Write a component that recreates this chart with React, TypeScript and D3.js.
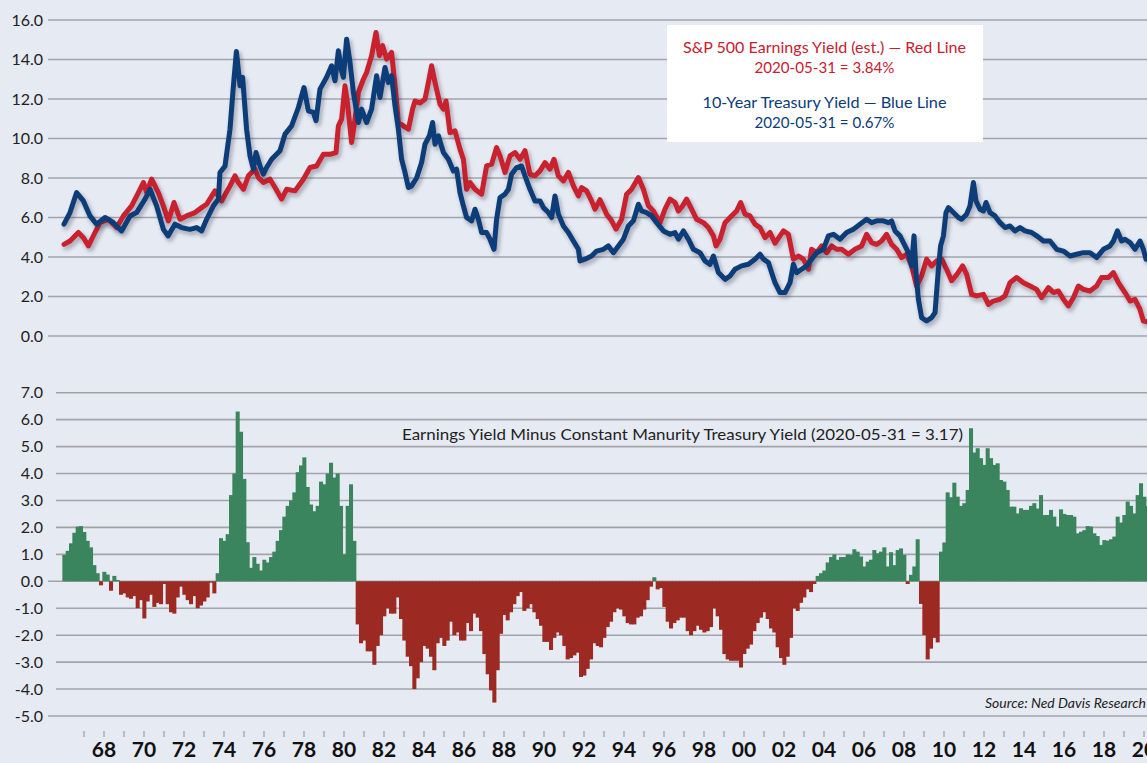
import React from 'react';
import * as d3 from 'd3';

const width = 1147;
const height = 763;
const font = 'Lato, "Noto Sans", sans-serif';

// S&P 500 earnings yield, red line: [year, %]
const redYield: [number, number][] = [
  [1966.0, 4.64], [1966.3, 4.81], [1966.72, 5.24], [1966.97, 4.98], [1967.22, 4.56], [1967.55, 5.24],
  [1967.8, 5.74], [1968.22, 5.91], [1968.63, 5.49], [1968.97, 6.08], [1969.38, 6.59], [1969.72, 7.26],
  [1969.97, 7.77], [1970.13, 7.26], [1970.38, 7.94], [1970.72, 7.26], [1970.97, 6.59], [1971.22, 5.83],
  [1971.5, 6.76], [1971.8, 5.91], [1972.13, 6.08], [1972.55, 6.25], [1972.88, 6.5], [1973.13, 6.67],
  [1973.55, 7.35], [1973.88, 6.84], [1974.3, 7.6], [1974.55, 8.11], [1974.72, 7.77], [1974.97, 7.43],
  [1975.22, 8.11], [1975.55, 8.45], [1975.72, 8.02], [1975.97, 7.77], [1976.3, 7.94], [1976.55, 7.52],
  [1976.88, 6.93], [1977.13, 7.43], [1977.55, 7.35], [1977.97, 7.94], [1978.3, 8.53], [1978.63, 8.61],
  [1978.97, 9.2], [1979.3, 9.2], [1979.6, 9.29], [1979.72, 10.64], [1979.88, 10.98], [1980.05, 12.67],
  [1980.17, 11.82], [1980.38, 9.8], [1980.55, 10.98], [1980.72, 12.33], [1980.97, 13.0], [1981.13, 13.34],
  [1981.38, 14.19], [1981.6, 15.37], [1981.77, 14.19], [1981.93, 14.7], [1982.13, 14.02], [1982.38, 14.36],
  [1982.55, 12.67], [1982.72, 10.81], [1982.97, 10.64], [1983.22, 10.47], [1983.43, 11.49], [1983.55, 11.9],
  [1983.8, 11.8], [1984.05, 11.99], [1984.22, 12.84], [1984.38, 13.68], [1984.55, 12.84], [1984.8, 11.74],
  [1984.97, 11.49], [1985.1, 11.9], [1985.3, 10.3], [1985.55, 10.39], [1985.8, 9.46], [1985.97, 8.95],
  [1986.13, 7.43], [1986.3, 7.77], [1986.55, 7.43], [1986.88, 7.18], [1987.13, 8.61], [1987.38, 8.7],
  [1987.63, 9.54], [1987.8, 9.12], [1988.05, 8.28], [1988.3, 9.12], [1988.55, 9.29], [1988.8, 8.95],
  [1989.05, 9.38], [1989.3, 8.19], [1989.55, 8.11], [1989.8, 8.36], [1990.05, 8.78], [1990.3, 8.45],
  [1990.5, 8.95], [1990.72, 8.11], [1990.97, 7.85], [1991.22, 8.28], [1991.47, 7.6], [1991.72, 7.09],
  [1991.88, 7.52], [1992.13, 7.35], [1992.38, 6.84], [1992.55, 6.42], [1992.8, 6.9], [1993.13, 6.17],
  [1993.38, 5.83], [1993.6, 5.41], [1993.88, 5.91], [1994.13, 7.18], [1994.38, 7.43], [1994.72, 8.02],
  [1994.97, 7.43], [1995.22, 6.59], [1995.47, 6.33], [1995.8, 5.74], [1996.05, 6.42], [1996.3, 6.93],
  [1996.55, 6.76], [1996.72, 6.33], [1996.93, 6.59], [1997.13, 6.93], [1997.38, 6.42], [1997.63, 5.91],
  [1997.97, 5.74], [1998.22, 5.49], [1998.47, 5.07], [1998.6, 4.56], [1998.8, 4.9], [1999.05, 5.74],
  [1999.3, 6.0], [1999.63, 6.33], [1999.83, 6.76], [2000.05, 6.17], [2000.3, 6.08], [2000.55, 5.66],
  [2000.8, 5.49], [2001.05, 4.98], [2001.3, 5.24], [2001.55, 4.7], [2001.8, 5.07], [2001.97, 5.32],
  [2002.22, 5.15], [2002.47, 3.89], [2002.72, 4.05], [2002.97, 3.89], [2003.22, 3.38], [2003.38, 4.39],
  [2003.63, 4.22], [2003.88, 4.56], [2004.13, 4.22], [2004.38, 4.56], [2004.63, 4.39], [2004.88, 4.39],
  [2005.22, 4.14], [2005.55, 4.39], [2005.88, 4.56], [2006.13, 5.15], [2006.38, 4.73], [2006.63, 4.64],
  [2006.88, 4.81], [2007.13, 5.15], [2007.38, 4.64], [2007.63, 4.39], [2007.88, 3.97], [2008.13, 4.14],
  [2008.38, 3.55], [2008.63, 2.53], [2008.88, 3.04], [2009.13, 3.89], [2009.38, 3.55], [2009.63, 3.8],
  [2009.88, 3.89], [2010.13, 3.38], [2010.38, 2.8], [2010.63, 3.1], [2010.93, 3.55], [2011.13, 3.13],
  [2011.38, 2.11], [2011.63, 2.03], [2011.97, 2.11], [2012.22, 1.6], [2012.47, 1.77], [2012.8, 1.86],
  [2013.05, 2.03], [2013.3, 2.7], [2013.63, 2.96], [2013.97, 2.7], [2014.3, 2.53], [2014.63, 2.36],
  [2014.88, 1.94], [2015.22, 2.45], [2015.47, 2.2], [2015.72, 2.28], [2015.97, 1.86], [2016.22, 1.52],
  [2016.47, 1.94], [2016.72, 2.53], [2016.97, 2.36], [2017.3, 2.28], [2017.63, 2.53], [2017.88, 2.96],
  [2018.22, 2.96], [2018.47, 3.21], [2018.72, 2.7], [2019.05, 2.2], [2019.3, 1.77], [2019.55, 1.86],
  [2019.8, 1.35], [2019.97, 0.76], [2020.25, 0.7],
];

// 10-year treasury yield, blue line: [year, %]
const blueYield: [number, number][] = [
  [1966.0, 5.66], [1966.3, 6.25], [1966.63, 7.26], [1966.97, 6.84], [1967.3, 6.08], [1967.63, 5.66],
  [1968.05, 6.0], [1968.47, 5.74], [1968.88, 5.32], [1969.3, 6.08], [1969.63, 6.25], [1970.05, 6.93],
  [1970.3, 7.43], [1970.63, 6.59], [1970.97, 5.4], [1971.2, 5.07], [1971.55, 5.66], [1971.88, 5.49],
  [1972.3, 5.4], [1972.63, 5.49], [1972.88, 5.32], [1973.13, 5.91], [1973.47, 6.59], [1973.72, 6.93],
  [1973.8, 8.28], [1974.05, 8.6], [1974.3, 10.47], [1974.47, 12.67], [1974.62, 14.4], [1974.8, 12.67],
  [1974.93, 13.1], [1975.13, 10.47], [1975.3, 9.12], [1975.47, 8.45], [1975.6, 9.29], [1975.8, 8.61],
  [1975.97, 8.19], [1976.13, 8.53], [1976.38, 8.95], [1976.8, 9.38], [1977.05, 10.22], [1977.38, 10.64],
  [1977.72, 11.57], [1978.0, 12.58], [1978.22, 11.4], [1978.47, 11.32], [1978.6, 10.9], [1978.8, 12.5],
  [1979.13, 13.1], [1979.38, 13.68], [1979.55, 12.92], [1979.72, 14.44], [1979.88, 13.43], [1979.97, 13.1],
  [1980.13, 15.03], [1980.3, 13.85], [1980.47, 12.33], [1980.72, 10.81], [1980.88, 11.49], [1981.13, 10.81],
  [1981.38, 11.49], [1981.63, 13.18], [1981.8, 12.08], [1982.05, 13.6], [1982.22, 12.84], [1982.38, 13.18],
  [1982.55, 11.66], [1982.72, 10.47], [1982.88, 8.95], [1983.05, 8.28], [1983.22, 7.52], [1983.38, 7.6],
  [1983.63, 8.0], [1983.88, 8.78], [1984.05, 9.71], [1984.27, 10.14], [1984.43, 10.81], [1984.55, 9.71],
  [1984.72, 10.14], [1984.97, 9.29], [1985.22, 8.95], [1985.47, 8.36], [1985.63, 8.45], [1985.8, 7.26],
  [1985.97, 6.59], [1986.13, 6.0], [1986.38, 5.83], [1986.55, 6.42], [1986.72, 5.91], [1986.88, 5.24],
  [1987.13, 5.24], [1987.3, 4.9], [1987.5, 4.39], [1987.63, 5.91], [1987.8, 7.01], [1988.05, 7.18],
  [1988.22, 7.43], [1988.38, 8.19], [1988.63, 8.53], [1988.88, 8.61], [1989.05, 8.11], [1989.3, 7.43],
  [1989.55, 6.84], [1989.8, 6.84], [1989.97, 6.5], [1990.22, 6.25], [1990.38, 6.0], [1990.55, 7.09],
  [1990.72, 6.17], [1990.97, 5.57], [1991.22, 5.24], [1991.47, 4.81], [1991.72, 4.39], [1991.8, 3.8],
  [1992.05, 3.89], [1992.38, 4.05], [1992.63, 4.3], [1992.97, 4.39], [1993.22, 4.56], [1993.47, 4.22],
  [1993.72, 4.56], [1993.97, 4.9], [1994.22, 5.57], [1994.47, 5.83], [1994.72, 6.67], [1994.88, 6.33],
  [1995.13, 6.25], [1995.38, 6.08], [1995.63, 5.74], [1995.97, 5.32], [1996.3, 5.15], [1996.55, 5.24],
  [1996.72, 4.9], [1996.97, 5.32], [1997.22, 4.9], [1997.47, 4.39], [1997.8, 4.22], [1998.05, 3.8],
  [1998.3, 3.63], [1998.47, 4.05], [1998.72, 3.21], [1999.05, 2.87], [1999.3, 3.04], [1999.55, 3.38],
  [1999.88, 3.55], [2000.22, 3.63], [2000.55, 3.89], [2000.8, 4.14], [2000.97, 3.89], [2001.22, 3.72],
  [2001.38, 3.21], [2001.55, 2.7], [2001.8, 2.2], [2002.05, 2.2], [2002.3, 2.7], [2002.47, 3.63],
  [2002.63, 3.21], [2002.88, 3.38], [2003.13, 3.55], [2003.38, 3.89], [2003.63, 4.22], [2003.97, 4.39],
  [2004.22, 5.07], [2004.47, 5.15], [2004.8, 4.9], [2005.13, 5.24], [2005.47, 5.41], [2005.8, 5.66],
  [2006.13, 5.91], [2006.38, 5.74], [2006.63, 5.83], [2006.97, 5.83], [2007.22, 5.74], [2007.38, 5.83],
  [2007.55, 5.32], [2007.8, 5.07], [2008.05, 4.56], [2008.22, 4.22], [2008.38, 3.55], [2008.5, 5.07],
  [2008.6, 3.21], [2008.72, 1.86], [2008.88, 0.93], [2009.13, 0.76], [2009.38, 0.93], [2009.55, 1.18],
  [2009.72, 3.38], [2009.83, 4.56], [2009.97, 5.07], [2010.1, 6.25], [2010.22, 6.5], [2010.47, 6.25],
  [2010.72, 6.0], [2010.88, 5.91], [2011.13, 6.17], [2011.3, 6.59], [2011.47, 7.77], [2011.6, 6.84],
  [2011.8, 6.42], [2011.97, 6.33], [2012.1, 6.76], [2012.3, 6.25], [2012.55, 6.08], [2012.8, 5.74],
  [2013.05, 5.49], [2013.3, 5.57], [2013.55, 5.32], [2013.8, 5.49], [2014.05, 5.32], [2014.38, 5.24],
  [2014.63, 5.07], [2014.97, 4.81], [2015.3, 4.81], [2015.63, 4.39], [2015.97, 4.3], [2016.3, 4.05],
  [2016.63, 4.14], [2016.97, 4.22], [2017.3, 4.22], [2017.63, 3.97], [2017.97, 4.39], [2018.3, 4.56],
  [2018.47, 4.81], [2018.67, 5.32], [2018.88, 4.81], [2019.05, 4.9], [2019.3, 4.73], [2019.55, 4.39],
  [2019.8, 4.81], [2019.97, 4.39], [2020.1, 3.89], [2020.25, 3.9],
];

// spread, bimonthly (6 per year) starting 1966
const spreadStart = 1966;
const spreadPerYear = 6;
const spread = [
  0.98, 1.13, 1.41, 1.8, 2.03, 2.05, // 1966
  1.83, 1.5, 1.26, 0.6, 0.3, -0.15,
  0.35, 0.25, -0.35, 0.2, 0.05, -0.5,
  -0.45, -0.6, -0.65, -0.55, -1.0, -0.7,
  -1.38, -0.75, -0.5, -0.95, -0.8, -0.85, // 1970
  -0.1, -0.85, -1.15, -1.2, -0.6, -0.2,
  -0.5, -0.7, -0.85, -0.55, -1.0, -0.9,
  -0.75, -0.6, -0.05, -0.45, 0.3, 1.6,
  1.5, 1.75, 3.2, 4.0, 6.3, 5.55,
  3.8, 1.45, 0.5, 0.9, 0.65, 0.4, // 1975
  0.8, 0.7, 0.9, 1.1, 1.5, 1.9,
  2.4, 2.8, 3.0, 3.3, 4.05, 4.3,
  4.6, 3.5, 2.85, 2.6, 2.8, 3.7,
  3.6, 4.0, 4.4, 3.85, 4.0, 2.8,
  1.0, 2.8, 3.6, 1.5, -1.6, -2.3, // 1980
  -2.2, -2.6, -2.6, -3.1, -2.4, -2.0,
  -1.3, -1.0, -1.2, -1.2, -0.6, -1.4,
  -2.2, -2.8, -3.15, -4.0, -3.6, -3.0,
  -2.4, -2.5, -2.8, -3.3, -2.3, -2.1,
  -2.4, -2.2, -1.5, -2.0, -1.9, -2.2, // 1985
  -2.2, -1.55, -1.85, -1.2, -1.35, -1.85,
  -2.7, -3.45, -4.05, -4.5, -3.3, -1.95,
  -1.25, -1.45, -1.15, -0.85, -0.55, -0.4,
  -1.1, -1.0, -0.85, -1.15, -1.4, -1.65,
  -2.25, -2.25, -2.55, -2.1, -1.9, -2.0, // 1990
  -2.4, -2.9, -2.85, -2.75, -2.65, -3.55,
  -3.5, -3.25, -2.9, -2.3, -2.4, -2.45,
  -2.1, -1.7, -1.5, -1.15, -1.0, -1.05,
  -1.3, -1.55, -1.6, -1.6, -1.35, -1.3,
  -1.05, -0.7, -0.2, 0.15, -0.3, -0.25, // 1995
  -0.95, -1.5, -1.75, -1.55, -1.45, -1.35,
  -1.35, -1.85, -2.0, -1.85, -1.65, -1.8,
  -1.9, -1.85, -1.7, -1.0, -1.3, -1.8,
  -2.7, -2.9, -2.95, -2.95, -2.95, -3.2,
  -2.7, -2.5, -2.35, -1.85, -1.55, -1.35, // 2000
  -1.15, -1.4, -1.75, -1.9, -2.45, -2.85,
  -3.1, -2.8, -2.1, -1.0, -1.1, -0.8,
  -0.6, -0.3, -0.4, -0.1, 0.2, 0.3,
  0.4, 0.7, 0.9, 1.0, 0.8, 0.9,
  0.9, 1.0, 0.98, 1.19, 1.1, 0.92, // 2005
  0.55, 0.73, 0.8, 1.16, 1.04, 1.1,
  1.26, 0.55, 1.08, 0.6, 1.16, 1.22,
  0.98, -0.1, 0.24, 0.55, 1.56, -0.84,
  -2.0, -2.9, -2.5, -2.1, -2.27, 1.1,
  1.44, 3.3, 3.12, 3.66, 3.14, 2.8, // 2010
  2.9, 3.39, 5.68, 4.78, 4.94, 4.57,
  4.32, 4.94, 4.57, 4.32, 4.38, 3.76,
  3.7, 3.39, 2.77, 2.77, 2.52, 2.71,
  2.65, 2.65, 2.8, 2.9, 2.7, 3.2,
  2.46, 2.46, 2.65, 2.4, 2.03, 2.67, // 2015
  2.5, 2.46, 2.46, 2.4, 1.78, 1.84,
  1.9, 2.05, 2.03, 1.78, 1.68, 1.35,
  1.53, 1.51, 1.56, 1.66, 2.4, 2.18,
  2.46, 2.96, 2.8, 2.52, 3.2, 3.64,
  3.14, 2.8, 3.17, // 2020
];

const topTicks = [0, 2, 4, 6, 8, 10, 12, 14, 16];
const bottomTicks = [7, 6, 5, 4, 3, 2, 1, 0, -1, -2, -3, -4, -5];
const labelYears = [1968, 1970, 1972, 1974, 1976, 1978, 1980, 1982, 1984, 1986, 1988, 1990, 1992, 1994,
  1996, 1998, 2000, 2002, 2004, 2006, 2008, 2010, 2012, 2014, 2016, 2018, 2020];
const minorYears = d3.range(1967, 2021);

const legendLines = [
  { text: 'S&P 500 Earnings Yield (est.) \u2014 Red Line', color: '#c8202f', len: 283 },
  { text: '2020-05-31 = 3.84%', color: '#c8202f', len: 140 },
  { text: '10-Year Treasury Yield \u2014 Blue Line', color: '#0b3c78', len: 244 },
  { text: '2020-05-31 = 0.67%', color: '#0b3c78', len: 140 },
];

const App = () => {
  const x = d3.scaleLinear().domain([1968, 2020]).range([104, 1144]);
  const yTop = d3.scaleLinear().domain([0, 16]).range([336, 20]);
  const yBot = d3.scaleLinear().domain([-5, 7]).range([716, 392.7]);

  const line = d3.line<[number, number]>()
    .x(d => x(d[0]))
    .y(d => yTop(d[1]))
    .curve(d3.curveLinear);

  const barW = x(1968 + 1 / spreadPerYear) - x(1968);

  const legendY = [47, 67, 102, 122];

  return (
    <svg width={width} height={height}
      style={{ position: 'absolute', left: 0, top: 0, display: 'block' }}
      fontFamily={font}>
      <defs>
        <filter id="shadow" x="-5%" y="-10%" width="110%" height="130%">
          <feDropShadow dx="2" dy="3" stdDeviation="2" floodColor="#1c2233" floodOpacity="0.35" />
        </filter>
      </defs>
      <rect x={0} y={0} width={width} height={height} fill="#e6eaf2" />

      {/* top grid and labels */}
      {topTicks.map(t => (
        <g key={'t' + t}>
          <line x1={48} x2={width} y1={yTop(t)} y2={yTop(t)} stroke="#a2a4aa" strokeWidth={1.6} />
          <text x={43} y={yTop(t)} dy="0.35em" textAnchor="end" fontSize={16} fill="#222">
            {t.toFixed(1)}
          </text>
        </g>
      ))}

      {/* bottom grid and labels */}
      {bottomTicks.map(t => (
        <g key={'b' + t}>
          <line x1={t === 0 || t === -5 ? 48 : 56} x2={width} y1={yBot(t)} y2={yBot(t)}
            stroke="#a2a4aa" strokeWidth={1.6} />
          <text x={43} y={yBot(t)} dy="0.35em" textAnchor="end" fontSize={16} fill="#222">
            {t.toFixed(1)}
          </text>
        </g>
      ))}

      {/* legend box */}
      <rect x={667} y={25} width={316} height={117} fill="#ffffff" />
      {legendLines.map((l, i) => (
        <text key={i} x={824.5} y={legendY[i]} dy="0.35em" textAnchor="middle" fontSize={16}
          fill={l.color} textLength={l.len} lengthAdjust="spacingAndGlyphs">
          {l.text}
        </text>
      ))}

      {/* lines */}
      <path d={line(redYield) || ''} fill="none" stroke="#c8202f" strokeWidth={5}
        strokeLinejoin="round" strokeLinecap="round" filter="url(#shadow)" />
      <path d={line(blueYield) || ''} fill="none" stroke="#0b3c78" strokeWidth={5}
        strokeLinejoin="round" strokeLinecap="round" filter="url(#shadow)" />

      {/* spread bars */}
      {spread.map((v, i) => {
        const t = spreadStart + i / spreadPerYear;
        const y0 = yBot(0);
        const y1 = yBot(v);
        return (
          <rect key={i} x={x(t) - barW / 2} width={barW + 0.7}
            y={Math.min(y0, y1)} height={Math.abs(y1 - y0)}
            fill={v >= 0 ? '#3b855e' : '#9c2a23'} />
        );
      })}

      <text x={402} y={434} dy="0.35em" fontSize={16} fill="#222" textLength={561}
        lengthAdjust="spacingAndGlyphs">
        Earnings Yield Minus Constant Manurity Treasury Yield (2020-05-31 = 3.17)
      </text>

      <text x={1146} y={703} dy="0.35em" textAnchor="end" fontSize={14} fontStyle="italic" fill="#222">
        Source: Ned Davis Research
      </text>

      {/* x axis */}
      {minorYears.map(yr => (
        <line key={'m' + yr} x1={x(yr)} x2={x(yr)} y1={731} y2={737} stroke="#a2a4aa" strokeWidth={1.3} />
      ))}
      {labelYears.map(yr => (
        <text key={'l' + yr} x={x(yr)} y={757} textAnchor="middle" fontSize={21} fontWeight="bold" fill="#111">
          {String(yr).slice(2)}
        </text>
      ))}
    </svg>
  );
};

export default App;
